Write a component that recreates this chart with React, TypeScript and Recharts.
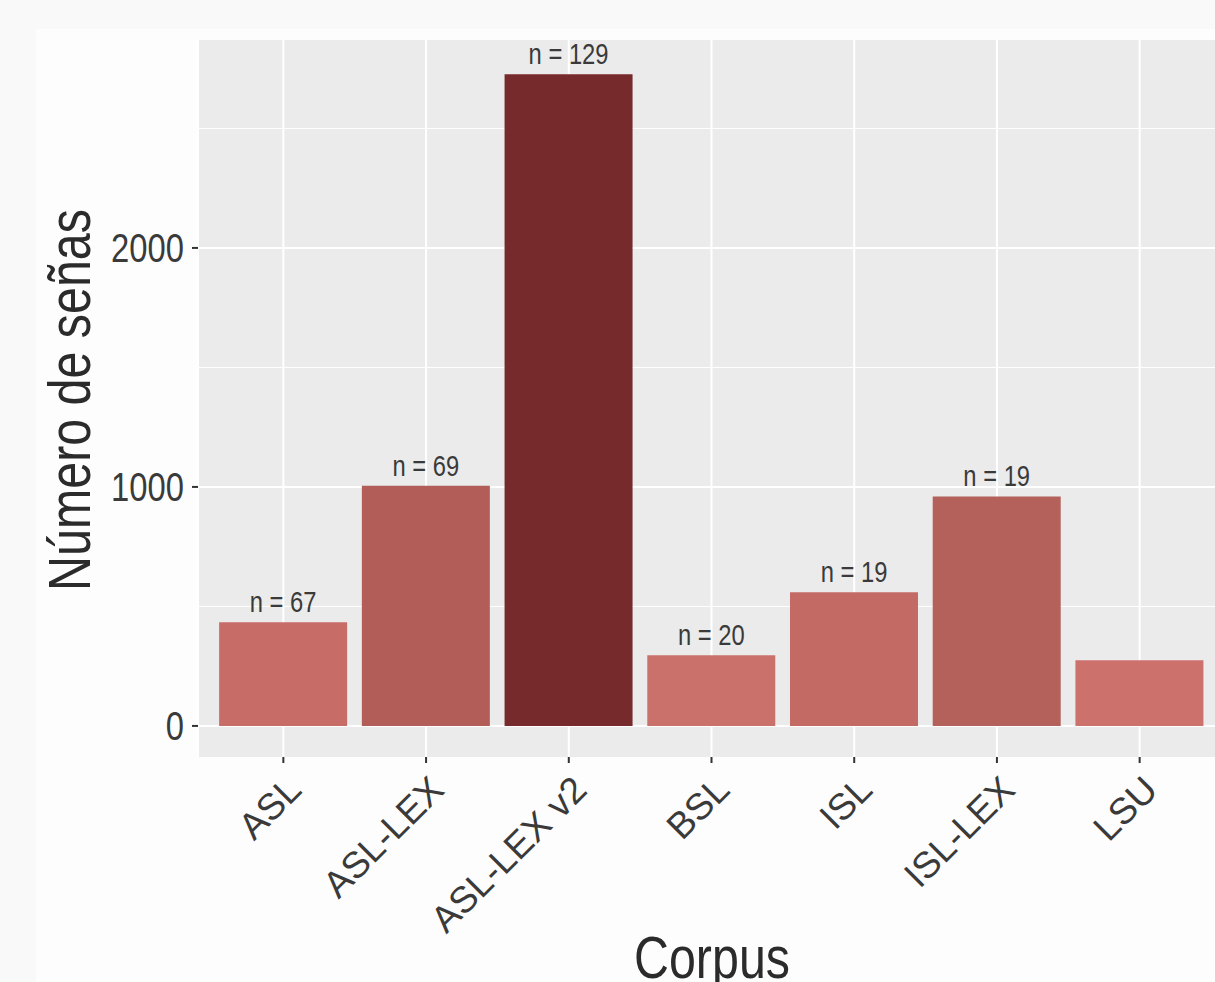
import React from 'react';
import { BarChart, Bar, XAxis, YAxis, CartesianGrid, LabelList, Cell } from 'recharts';

const corpora = ['ASL', 'ASL-LEX', 'ASL-LEX v2', 'BSL', 'ISL', 'ISL-LEX', 'LSU'];
const signCounts = [434, 1005, 2727, 296, 559, 960, 275];
const nLabels = ['n = 67', 'n = 69', 'n = 129', 'n = 20', 'n = 19', 'n = 19', ''];
const barColors = ['#C76C67', '#B35D58', '#772A2B', '#CB716C', '#C46A64', '#B4605B', '#CC716C'];
const yTicks = [0, 1000, 2000];
const yMinor = [500, 1500, 2500];

const FONT = '"Liberation Sans", Arial, sans-serif';
const SQUEEZE = 0.82; // no narrow font installed, so squash the regular one

const data = corpora.map((c, i) => ({ corpus: c, value: signCounts[i], label: nLabels[i] }));

// condensed text, like Arial Narrow
const Narrow = ({ x, y, rotate = 0, anchor = 'middle', size, fill = '#3a3a3a', dy, children }: any) => (
  <text
    transform={`translate(${x},${y}) rotate(${rotate}) scale(${SQUEEZE},1)`}
    x={0}
    y={0}
    dy={dy}
    textAnchor={anchor}
    fontFamily={FONT}
    fontSize={size}
    fill={fill}
  >
    {children}
  </text>
);

const XTick = ({ x, y, payload }: any) => (
  <text
    x={x + 20}
    y={y + 27}
    transform={`rotate(-45, ${x + 20}, ${y + 27})`}
    textAnchor="end"
    fontFamily={FONT}
    fontSize={37}
    fill="#3a3a3a"
  >
    {payload.value}
  </text>
);

const YTick = ({ y, payload }: any) => (
  <Narrow x={184} y={y} dy="0.36em" anchor="end" size={40}>
    {payload.value}
  </Narrow>
);

const TopLabel = (props: any) => {
  const { x, y, width, value } = props;
  if (!value) return null;
  return (
    <Narrow x={x + width / 2} y={y - 10} size={29}>
      {value}
    </Narrow>
  );
};

export default function App() {
  return (
    <div
      style={{
        position: 'fixed',
        left: 0,
        top: 0,
        width: 1215,
        height: 982,
        overflow: 'hidden',
        background: '#F9F9F9',
      }}
    >
      <div style={{ position: 'absolute', left: 36, top: 29, right: 0, bottom: 0, background: '#FDFDFD' }} />
      <div style={{ position: 'absolute', left: 0, top: 0 }}>
        <BarChart
          width={1240}
          height={982}
          data={data}
          margin={{ top: 40, right: 15, left: 0, bottom: 0 }}
          barCategoryGap="5%"
        >
          <CartesianGrid fill="#EBEBEB" stroke="#FFFFFF" strokeWidth={2} horizontalValues={yTicks} />
          <CartesianGrid fill="none" stroke="#FFFFFF" strokeWidth={1} vertical={false} horizontalValues={yMinor} />
          <XAxis
            dataKey="corpus"
            height={225}
            padding={{ left: 14, right: 14 }}
            axisLine={false}
            tickLine={{ stroke: '#333333', strokeWidth: 2 }}
            tickSize={6}
            tick={<XTick />}
            interval={0}
          />
          <YAxis
            type="number"
            width={198}
            domain={[-130, 2870]}
            ticks={yTicks}
            axisLine={false}
            tickLine={{ stroke: '#333333', strokeWidth: 2 }}
            tickSize={6}
            tick={<YTick />}
          />
          <Bar dataKey="value" isAnimationActive={false}>
            {data.map((d, i) => (
              <Cell key={d.corpus} fill={barColors[i]} />
            ))}
            <LabelList dataKey="label" content={<TopLabel />} />
          </Bar>
        </BarChart>
      </div>
      <svg style={{ position: 'absolute', left: 0, top: 0 }} width={1215} height={982}>
        <Narrow x={90} y={400} rotate={-90} size={59} fill="#2b2b2b">
          Número de señas
        </Narrow>
        <Narrow x={712} y={978} size={59} fill="#2b2b2b">
          Corpus
        </Narrow>
      </svg>
    </div>
  );
}
